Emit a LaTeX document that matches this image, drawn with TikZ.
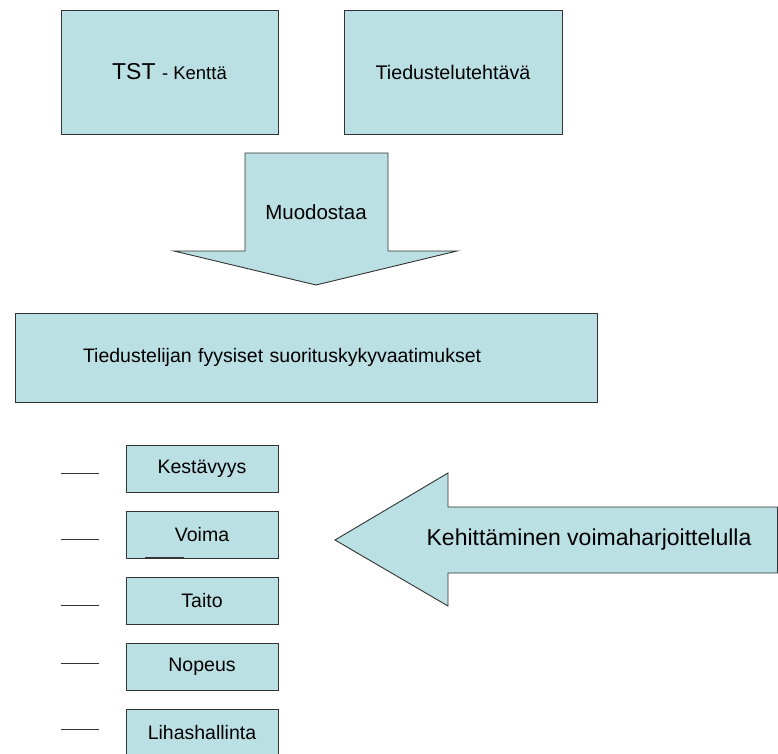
\documentclass[tikz,border=0pt]{standalone}
\usepackage{fontspec}
\setmainfont{Liberation Sans}
\definecolor{vaalea}{HTML}{BBE0E3}
\definecolor{reuna}{HTML}{333333}
\begin{document}
\begin{tikzpicture}[x=1pt,y=-1pt,
 laatikko/.style={draw=reuna,fill=vaalea,line width=0.9pt,inner sep=0pt},
 pieni/.style={laatikko,minimum width=152pt,minimum height=47pt,font=\fontsize{19.5}{22}\selectfont},
 viiva/.style={draw=reuna,line width=0.8pt}]
\useasboundingbox (0,0) rectangle (778,753);
% ylaosan laatikot
\node[laatikko,minimum width=217pt,minimum height=124pt] (kentta) at (169.5,72) {\fontsize{23}{26}\selectfont TST \fontsize{18.5}{22}\selectfont- Kenttä};
\node[laatikko,minimum width=218pt,minimum height=124pt,font=\fontsize{19.7}{22}\selectfont] (tehtava) at (453,72) {Tiedustelutehtävä};
% nuoli alas
\filldraw[laatikko] (245,153) -- (388,153) -- (388,251) -- (457,251) -- (316,285) -- (174,251) -- (245,251) -- cycle;
\node[font=\fontsize{20.5}{24}\selectfont] (muodostaa) at (316,212) {Muodostaa};
% vaatimukset
\node[laatikko,minimum width=582pt,minimum height=89pt,inner xsep=68pt,text width=446pt,align=left,font=\fontsize{19.5}{22}\selectfont] (vaatimukset) at (306,357.5) {Tiedustelijan fyysiset suorituskykyvaatimukset};
% ominaisuudet
\foreach \nimi/\teksti [count=\i] in {kestavyys/Kestävyys,voima/Voima,taito/Taito,nopeus/Nopeus,lihas/Lihashallinta}
 \node[pieni] (\nimi) at (202,{469+66*(\i-1)}) {\teksti};
\foreach \y in {473,539,605,663,729} \draw[viiva] (61,\y) -- (99,\y);
\draw[viiva,line width=1.4pt] (145,558) -- (184,558);
% nuoli vasemmalle
\filldraw[laatikko] (335,540) -- (448,473) -- (448,507) -- (777.5,507) -- (777.5,573) -- (448,573) -- (448,606) -- cycle;
\node[font=\fontsize{23}{26}\selectfont] (kehitys) at (589,540) {Kehittäminen voimaharjoittelulla};
\end{tikzpicture}
\end{document}
